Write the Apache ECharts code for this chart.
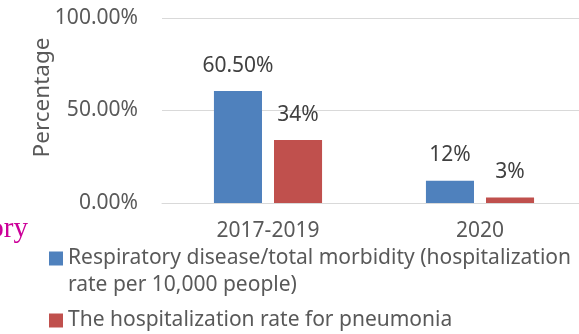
<!DOCTYPE html>
<html>
<head>
<meta charset="utf-8">
<style>
  html, body { margin: 0; padding: 0; background: #ffffff; }
  #chart { width: 579px; height: 334px; }
</style>
<script src="https://cdn.jsdelivr.net/npm/echarts@6/dist/echarts.min.js"></script>
</head>
<body>
<div id="chart"></div>
<script>
// Periods on the category axis
const periods = ['2017-2019', '2020'];

// Series names as shown in the legend
const seriesNames = [
  'Respiratory disease/total morbidity (hospitalization rate per 10,000 people)',
  'The hospitalization rate for pneumonia'
];

// Percentages per period
const respiratoryShare = [60.5, 12];
const pneumoniaRate = [34, 3];

// Value axis ticks
const yTicks = [0, 50, 100];

const chart = echarts.init(document.getElementById('chart'), null, { renderer: 'canvas' });

const font = 'Noto Sans';
const fontSize = 21;
const greyText = '#595959';
const gridGrey = '#d9d9d9';

function valueLabel(v) {
  return (Number.isInteger(v) ? String(v) : v.toFixed(2)) + '%';
}

// Legend text: the long name wraps after "(hospitalization"; a leading blank
// line keeps the colour square level with the first line of text.
function legendText(name) {
  const cut = name.indexOf('(hospitalization ');
  if (cut < 0) return name;
  const split = cut + '(hospitalization'.length;
  return '\n' + name.slice(0, split) + '\n' + name.slice(split + 1);
}

const barLabel = {
  show: true,
  position: 'top',
  distance: 15,
  color: '#404040',
  fontFamily: font,
  fontSize: fontSize,
  formatter: p => valueLabel(p.value)
};

chart.setOption({
  animation: false,
  backgroundColor: '#ffffff',
  textStyle: { fontFamily: font },
  grid: {
    left: 162,
    right: -7,
    top: 18,
    bottom: 131,
    containLabel: false,
    outerBoundsMode: 'none'
  },
  legend: {
    orient: 'vertical',
    left: 49,
    top: 218,
    padding: 0,
    itemGap: 8,
    itemWidth: 14,
    itemHeight: 14,
    icon: 'rect',
    data: seriesNames,
    formatter: legendText,
    textStyle: {
      color: greyText,
      fontFamily: font,
      fontSize: fontSize,
      lineHeight: 27
    },
    selectedMode: false
  },
  xAxis: {
    type: 'category',
    data: periods,
    axisTick: { show: false },
    axisLine: { show: true, lineStyle: { color: gridGrey, width: 1 } },
    axisLabel: {
      color: greyText,
      fontFamily: font,
      fontSize: fontSize,
      margin: 18
    }
  },
  yAxis: {
    type: 'value',
    min: yTicks[0],
    max: yTicks[yTicks.length - 1],
    interval: yTicks[1] - yTicks[0],
    axisLine: { show: false },
    axisTick: { show: false },
    splitLine: { lineStyle: { color: gridGrey, width: 1 } },
    axisLabel: {
      color: greyText,
      fontFamily: font,
      fontSize: fontSize,
      margin: 24,
      formatter: v => v.toFixed(2) + '%'
    }
  },
  graphic: [
    {
      type: 'text',
      x: 42.5,
      y: 97.5,
      rotation: Math.PI / 2,
      style: {
        text: 'Percentage',
        fill: greyText,
        font: '22.5px "Noto Sans"',
        align: 'center',
        verticalAlign: 'middle'
      }
    },
    {
      type: 'text',
      x: 28,
      y: 229,
      style: {
        text: 'ory',
        fill: '#cc0099',
        font: '29px "Liberation Serif"',
        align: 'right',
        verticalAlign: 'middle'
      }
    }
  ],
  series: [
    {
      name: seriesNames[0],
      type: 'bar',
      data: respiratoryShare,
      barGap: '25%',
      barCategoryGap: '49%',
      itemStyle: { color: '#4f81bd' },
      label: barLabel
    },
    {
      name: seriesNames[1],
      type: 'bar',
      data: pneumoniaRate,
      itemStyle: { color: '#c0504d' },
      label: barLabel
    }
  ]
});
</script>
</body>
</html>
